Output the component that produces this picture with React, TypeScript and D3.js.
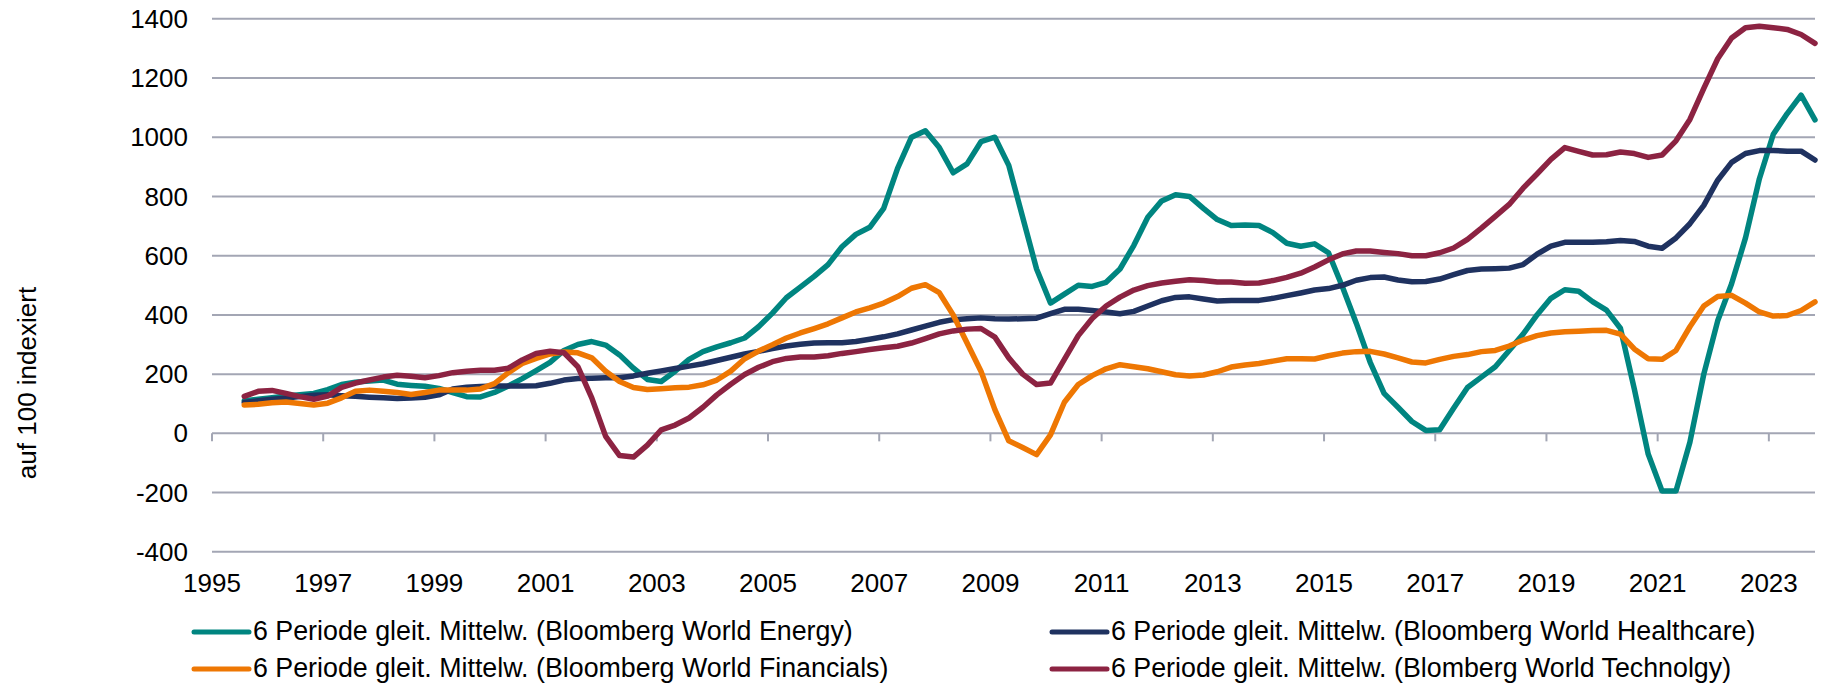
import React, { useEffect, useRef } from "react";
import * as d3 from "d3";

// quarterly points, first one in mid-1995, last one late 2023
const FIRST_PERIOD = 1995.58;
const PERIOD_STEP = 0.25;

const energy = [
  110, 115,
  120, 126, 130, 135, 148, 165, 173, 177, 180, 166, 162, 159, 152, 138, 124, 123,
  138, 160, 185, 212, 240, 280, 300, 310, 298, 265, 220, 182, 175, 210, 250, 276,
  292, 306, 322, 360, 406, 458, 494, 530, 570, 630, 672, 696, 760, 895, 1000, 1022,
  965, 880, 910, 985, 1000, 905, 730, 555, 440, 470, 500, 496, 510, 555, 635, 730,
  785, 806, 800, 760, 722, 702, 704, 702, 678, 642, 632, 640, 610, 495, 372, 240,
  135, 88, 40, 10, 12, 85, 155, 190, 225, 280, 335, 400, 456, 485, 480, 445,
  416, 355, 150, -70, -195, -195, -30, 200, 380, 505, 660, 860, 1010, 1080, 1142, 1059,
];

const healthcare = [
  104, 110,
  115, 119, 124, 129, 130, 127, 125, 122, 120, 118, 119, 122, 130, 150, 156, 158,
  160, 160, 160, 161, 169, 180, 185, 186, 188, 188, 194, 203, 211, 219, 227, 235,
  246, 257, 268, 277, 286, 295, 301, 305, 306, 306, 310, 318, 326, 336, 349, 362,
  375, 384, 387, 390, 387, 386, 387, 389, 404, 419, 419, 415, 410, 404, 412, 430,
  448, 459, 461, 454, 447, 449, 449, 449, 456, 465, 474, 484, 489, 500, 517, 526,
  528, 518, 512, 513, 521, 536, 550, 555, 556, 558, 570, 605, 632, 645, 645, 645,
  647, 651, 648, 632, 625, 660, 708, 770, 855, 915, 945, 955, 955, 953, 953, 923,
];

const financials = [
  96, 98,
  103, 106, 101, 96, 102, 120, 142, 146, 142, 138, 131, 138, 146, 146, 146, 150,
  168, 205, 236, 253, 268, 275, 272, 255, 210, 175, 155, 148, 151, 154, 156, 164,
  180, 210, 252, 278, 299, 322, 339, 354, 370, 390, 410, 424, 440, 462, 490, 502,
  475, 400, 305, 210, 80, -25, -48, -72, -5, 105, 165, 195, 218, 232, 225, 218,
  208, 198, 194, 197, 208, 224, 231, 236, 244, 252, 252, 251, 262, 271, 276, 277,
  268, 255, 241, 238, 250, 260, 266, 276, 280, 295, 315, 330, 339, 343, 345, 347,
  348, 335, 285, 252, 250, 280, 360, 430, 462, 466, 440, 410, 396, 398, 415, 444,
];

const technology = [
  125, 142,
  145, 135, 124, 115, 126, 155, 170, 180, 190, 196, 193, 188, 195, 205, 210, 213,
  213, 220, 248, 270, 277, 272, 225, 120, -10, -75, -80, -40, 12, 28, 52, 88,
  130, 166, 199, 223, 242, 253, 258, 258, 262, 270, 276, 283, 289, 294, 305, 320,
  336, 346, 352, 354, 325, 255, 200, 165, 170, 250, 330, 388, 430, 460, 484, 499,
  508, 514, 519, 516, 511, 511, 507, 508, 516, 527, 541, 562, 586, 606, 616, 616,
  611, 607, 600, 600, 610, 626, 655, 693, 733, 773, 828, 876, 925, 965, 952, 940,
  941, 950, 945, 932, 940, 988, 1060, 1165, 1265, 1335, 1370, 1375, 1370, 1364, 1347, 1317,
];

const yTicks = [-400, -200, 0, 200, 400, 600, 800, 1000, 1200, 1400];
const xTicks = [1995, 1997, 1999, 2001, 2003, 2005, 2007, 2009, 2011, 2013, 2015, 2017, 2019, 2021, 2023];

const seriesList = [
  { name: "6 Periode gleit. Mittelw. (Bloomberg World Energy)", values: energy, color: "#008580" },
  { name: "6 Periode gleit. Mittelw. (Bloomberg World Financials)", values: financials, color: "#ee7703" },
  { name: "6 Periode gleit. Mittelw. (Bloomberg World Healthcare)", values: healthcare, color: "#1f3260" },
  { name: "6 Periode gleit. Mittelw. (Blomberg World Technolgy)", values: technology, color: "#8c2342" },
];

const W = 1821;
const H = 683;
const FONT = "'Liberation Sans', Arial, sans-serif";

export default function App() {
  const svgRef = useRef<SVGSVGElement | null>(null);

  useEffect(() => {
    const svg = d3.select(svgRef.current);
    svg.selectAll("*").remove();

    const x = d3.scaleLinear().domain([1995, 2023.83]).range([212, 1815]);
    const y = d3.scaleLinear().domain([-400, 1400]).range([551.8, 18.8]);
    const gridColor = "#a3a6b4";

    // horizontal gridlines
    svg
      .append("g")
      .selectAll("line")
      .data(yTicks)
      .join("line")
      .attr("x1", 212)
      .attr("x2", 1815)
      .attr("y1", (d) => y(d))
      .attr("y2", (d) => y(d))
      .attr("stroke", gridColor)
      .attr("stroke-width", 2);

    // y labels
    svg
      .append("g")
      .selectAll("text")
      .data(yTicks)
      .join("text")
      .attr("x", 188)
      .attr("y", (d) => y(d))
      .attr("dy", "0.35em")
      .attr("text-anchor", "end")
      .style("font-family", FONT)
      .style("font-size", "26px")
      .attr("fill", "#000")
      .text((d) => String(d));

    // x axis ticks on the zero line
    svg
      .append("g")
      .selectAll("line")
      .data(xTicks)
      .join("line")
      .attr("x1", (d) => x(d))
      .attr("x2", (d) => x(d))
      .attr("y1", y(0))
      .attr("y2", y(0) + 8)
      .attr("stroke", gridColor)
      .attr("stroke-width", 2);

    svg
      .append("g")
      .selectAll("text")
      .data(xTicks)
      .join("text")
      .attr("x", (d) => x(d))
      .attr("y", 592)
      .attr("text-anchor", "middle")
      .style("font-family", FONT)
      .style("font-size", "26px")
      .attr("fill", "#000")
      .text((d) => String(d));

    // y title
    svg
      .append("text")
      .attr("transform", "translate(36,383) rotate(-90)")
      .attr("text-anchor", "middle")
      .style("font-family", FONT)
      .style("font-size", "26px")
      .attr("fill", "#000")
      .text("auf 100 indexiert");

    // lines
    const line = d3
      .line<number>()
      .x((_, i) => x(FIRST_PERIOD + i * PERIOD_STEP))
      .y((d) => y(d))
      .curve(d3.curveLinear);

    // draw order: energy, healthcare, financials, technology on top
    const drawOrder = [seriesList[0], seriesList[2], seriesList[1], seriesList[3]];
    svg
      .append("g")
      .selectAll("path")
      .data(drawOrder)
      .join("path")
      .attr("d", (d) => line(d.values))
      .attr("fill", "none")
      .attr("stroke", (d) => d.color)
      .attr("stroke-width", 5.5)
      .attr("stroke-linejoin", "round")
      .attr("stroke-linecap", "round");

    // legend, two columns
    const legendPos = [
      { lx: 194, ty: 632 },
      { lx: 194, ty: 669 },
      { lx: 1052, ty: 632 },
      { lx: 1052, ty: 669 },
    ];
    const legend = svg
      .append("g")
      .selectAll("g")
      .data(seriesList)
      .join("g")
      .attr("transform", (_, i) => `translate(${legendPos[i].lx},${legendPos[i].ty})`);
    legend
      .append("line")
      .attr("x1", 0)
      .attr("x2", 55)
      .attr("stroke", (d) => d.color)
      .attr("stroke-width", 5)
      .attr("stroke-linecap", "round");
    legend
      .append("text")
      .attr("x", 59)
      .attr("y", 8)
      .style("font-family", FONT)
      .style("font-size", "26.8px")
      .attr("fill", "#000")
      .text((d) => d.name);
  }, []);

  return (
    <svg
      ref={svgRef}
      width={W}
      height={H}
      style={{ position: "absolute", left: 0, top: 0, background: "#fff" }}
    />
  );
}
